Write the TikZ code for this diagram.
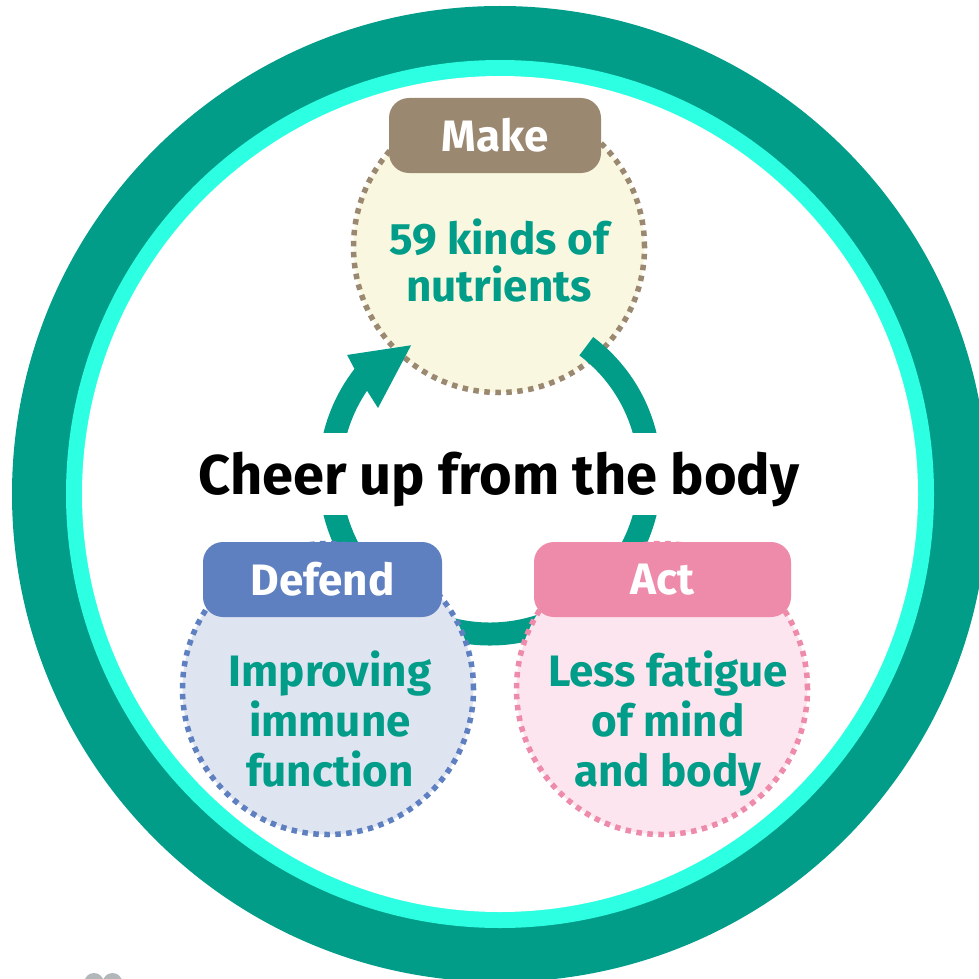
\documentclass[tikz,border=0pt]{standalone}
\usepackage{fontspec}
\setmainfont{Fira Sans}
\definecolor{teal1}{RGB}{1,157,137}
\definecolor{cyan1}{RGB}{44,255,226}
\definecolor{makebox}{RGB}{155,136,112}
\definecolor{makefill}{RGB}{250,247,224}
\definecolor{defbox}{RGB}{95,128,192}
\definecolor{deffill}{RGB}{223,228,241}
\definecolor{actbox}{RGB}{238,139,170}
\definecolor{actfill}{RGB}{252,229,238}
\definecolor{gray1}{RGB}{178,184,186}
\begin{document}
\begin{tikzpicture}[x=1pt,y=1pt,
  dotb/.style={line width=5.5pt, dash pattern=on 5.5pt off 5.5pt},
  bubble/.style={circle, minimum size=291pt, inner sep=0pt, dotb},
  labelbox/.style={rounded corners=20pt, minimum height=75pt, inner sep=0pt, text=white, font=\fontsize{44}{48}\selectfont\bfseries},
  bodytext/.style={align=center, text=teal1, font=\fontsize{44}{50}\selectfont\bfseries, inner sep=0pt}]
\clip (0,0) rectangle (979,-979);
\fill[white] (0,0) rectangle (979,-979);
% outer rings
\coordinate (O) at (500,-494);
\fill[teal1] (O) circle[radius=488pt];
\fill[cyan1] (O) circle[radius=434pt];
\fill[white] (O) circle[radius=418pt];
% small grey shape at the bottom edge
\fill[gray1] (94,-982) ellipse[x radius=9.5pt, y radius=9pt];
\fill[gray1] (112.5,-982) ellipse[x radius=9.5pt, y radius=9pt];
% Make bubble
\node[bubble, fill=makefill, draw=makebox] (makec) at (499,-247) {};
% cycle arrow
\coordinate (C) at (490,-474);
\fill[teal1] ([shift={(C)}]53:171.5pt) arc[start angle=53, end angle=-217.8, radius=171.5pt]
  -- ([shift={(C)}]-219.8:186pt) -- ([shift={(C)}]-238.5:151pt) -- ([shift={(C)}]-210.5:130pt)
  -- ([shift={(C)}]-214.1:148.5pt) arc[start angle=-214.1, end angle=53, radius=148.5pt] -- cycle;
% title
\fill[white] (185,-433) rectangle (815,-515);
\node[anchor=base, inner sep=0pt, font=\fontsize{56}{60}\selectfont\bfseries] (title) at (499,-494) {Cheer up from the body};
% Defend and Act bubbles
\node[bubble, fill=deffill, draw=defbox] (defc) at (328,-689) {};
\node[bubble, fill=actfill, draw=actbox] (actc) at (662,-689) {};
% labels
\node[labelbox, fill=makebox, minimum width=212pt] (makelab) at (495,-135.5) {Make};
\node[labelbox, fill=defbox, minimum width=239pt] (deflab) at (322.5,-579.5) {Defend};
\node[labelbox, fill=actbox, minimum width=257pt] (actlab) at (662.5,-579.5) {Act};
% texts
\node[bodytext, anchor=base, font=\fontsize{44}{47}\selectfont\bfseries] (maketxt) at (499,-301) {59 kinds of\\nutrients};
\node[bodytext, anchor=base] (deftxt) at (330,-786) {Improving\\immune\\function};
\node[bodytext, anchor=base] (acttxt) at (668,-786) {Less fatigue\\of mind\\and body};
\end{tikzpicture}
\end{document}
